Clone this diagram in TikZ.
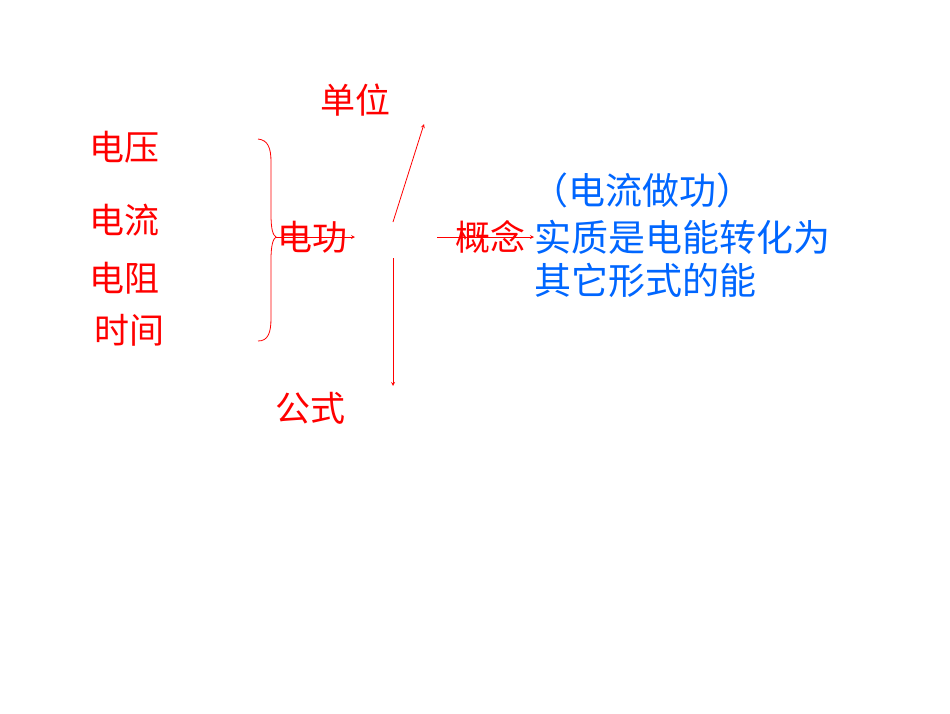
\documentclass[tikz,border=0pt]{standalone}
\usepackage{fontspec}
\newfontfamily\cjk{Noto Sans CJK SC}
\definecolor{txtblue}{RGB}{0,102,255}
\tikzset{
	redtxt/.style={text=red, font=\cjk\fontsize{35}{38}\selectfont, inner sep=0pt},
	bluetxt/.style={text=txtblue, font=\cjk\fontsize{37}{41}\selectfont, inner sep=0pt},
	arr/.style={draw=red, line width=0.8pt, ->, >=stealth},
}

\begin{document}
\begin{tikzpicture}[x=1pt, y=-1pt]
	\useasboundingbox (0,0) rectangle (950,713);

	\node[redtxt](dy) at (124,147) {电压};
	\node[redtxt](dl) at (124,220) {电流};
	\node[redtxt](dz) at (124,278) {电阻};
	\node[redtxt](sj) at (129,330) {时间};

	\node[redtxt](dw) at (355,100) {单位};
	\node[redtxt](dg) at (312,237) {电功};
	\node[redtxt](gs) at (310,408) {公式};
	\node[redtxt](gn) at (490,237) {概念};

	\node[bluetxt](zl) at (642,190) {（电流做功）};
	\node[bluetxt, anchor=west](sz) at (534,237) {实质是电能转化为};
	\node[bluetxt, anchor=west](qt) at (534,280) {其它形式的能};

	\coordinate (bt) at (258,139);
	\coordinate (bm) at (276,237);
	\coordinate (bb) at (258,341);
	\coordinate (e1) at (355,237);
	\coordinate (u0) at (393,222);
	\coordinate (u1) at (424,124);
	\coordinate (d0) at (393,258);
	\coordinate (d1) at (393,386);
	\coordinate (a0) at (437,237);
	\coordinate (a1) at (534,237);

	% brace
	\draw[red, line width=0.8pt] (bt) .. controls (268,140) and (271,148) .. (271,162)
		-- (271,214) .. controls (271,230) and (273,235) .. (bm)
		.. controls (273,239) and (271,245) .. (271,260)
		-- (271,318) .. controls (271,333) and (268,341) .. (bb);

	\draw[arr] (bm) -- (e1);
	\draw[arr] (u0) -- (u1);
	\draw[arr] (d0) -- (d1);
	\draw[arr] (a0) -- (a1);
\end{tikzpicture}
\end{document}
